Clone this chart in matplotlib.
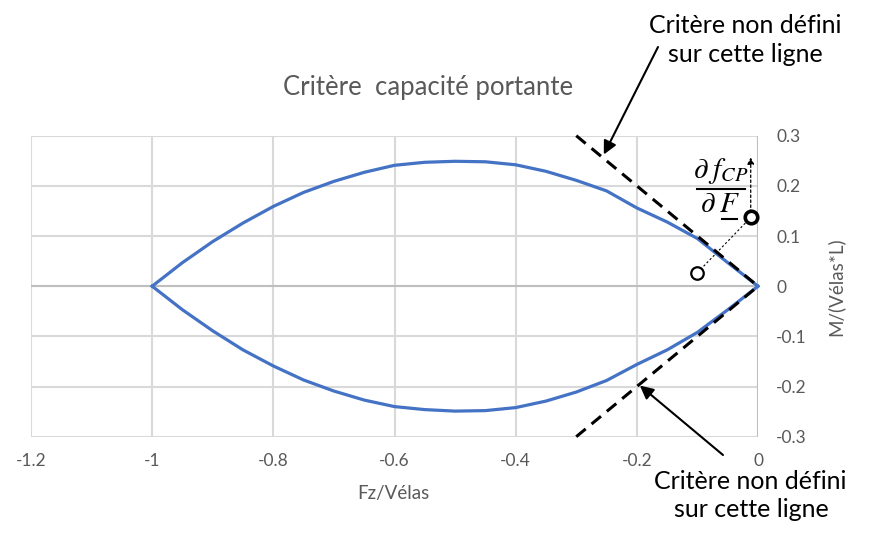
import matplotlib
matplotlib.use("Agg")
import matplotlib.pyplot as plt
from matplotlib.lines import Line2D

plt.rcParams['font.family'] = ['Lato', 'DejaVu Sans']
plt.rcParams['mathtext.fontset'] = 'stix'

# ---- data ----
fz = [-1.0, -0.95, -0.9, -0.85, -0.8, -0.75, -0.7, -0.65, -0.6, -0.55, -0.5,
      -0.45, -0.4, -0.35, -0.3, -0.25, -0.2, -0.15, -0.1, -0.05, 0.0]
m_upper = [0.0, 0.047, 0.089, 0.126, 0.159, 0.187, 0.209, 0.227, 0.241, 0.247, 0.249,
           0.248, 0.242, 0.229, 0.211, 0.190, 0.156, 0.128, 0.095, 0.047, 0.0]
m_lower = [0.0, -0.047, -0.089, -0.127, -0.159, -0.187, -0.209, -0.227, -0.240, -0.246, -0.249,
           -0.248, -0.242, -0.229, -0.211, -0.188, -0.156, -0.127, -0.092, -0.047, 0.0]
crit_x = [-0.3, 0.0]
crit_up = [0.3, 0.0]
crit_down = [-0.3, 0.0]
grad_base = (-0.100, 0.027)
grad_point = (-0.012, 0.137)
grad_tip_y = 0.257
arrow_up_tip = (-0.2545, 0.2625)
arrow_down_tip = (-0.195, -0.198)

xticks = [-1.2, -1.0, -0.8, -0.6, -0.4, -0.2, 0.0]
xticklabels = ['-1.2', '-1', '-0.8', '-0.6', '-0.4', '-0.2', '0']
yticks = [-0.3, -0.2, -0.1, 0.0, 0.1, 0.2, 0.3]
yticklabels = ['-0.3', '-0.2', '-0.1', '0', '0.1', '0.2', '0.3']

title = 'Critère  capacité portante'
xlabel = 'Fz/Vélas'
ylabel = 'M/(Vélas*L)'
note = ['Critère non défini', 'sur cette ligne']

W, H = 871, 538
def fx(px):
    return px / W
def fy(py):
    return 1 - py / H

fig = plt.figure(figsize=(W / 100, H / 100), dpi=100)
ax = fig.add_axes([fx(31), fy(436.7), (758 - 31) / W, (436.7 - 135.7) / H])
ax.set_xlim(-1.2, 0)
ax.set_ylim(-0.3, 0.3)
for s in ax.spines.values():
    s.set_visible(False)
ax.set_xticks(xticks)
ax.set_xticklabels(xticklabels)
ax.set_yticks(yticks)
ax.set_yticklabels(yticklabels)
ax.yaxis.tick_right()
ax.tick_params(axis='both', length=0, labelcolor='#595959', labelsize=12.5)
ax.tick_params(axis='x', pad=12)
ax.tick_params(axis='y', pad=13)
for lab in ax.get_yticklabels():
    lab.set_horizontalalignment('left')
ax.grid(True, color='#d9d9d9', lw=1.5, zorder=0)
ax.set_axisbelow(True)
ax.axhline(0, color='#bfbfbf', lw=1.5, zorder=1)
ax.axvline(0, color='#bfbfbf', lw=1.5, zorder=1)

ax.plot(fz, m_upper, color='#4472C4', lw=2.3, zorder=3, clip_on=False)
ax.plot(fz, m_lower, color='#4472C4', lw=2.3, zorder=3, clip_on=False)
ax.plot(crit_x, crit_up, color='black', lw=2.2, ls=(0, (4, 2.5)), zorder=4, clip_on=False)
ax.plot(crit_x, crit_down, color='black', lw=2.2, ls=(0, (4, 2.5)), zorder=4, clip_on=False)

# gradient
ax.plot([grad_base[0], grad_point[0]], [grad_base[1], grad_point[1]], color='black',
        lw=0.8, ls=(0, (2, 2)), zorder=5)
ax.plot([grad_base[0]], [grad_base[1]], marker='o', ms=9, mfc='white', mec='black', mew=1.6, zorder=6)
ax.annotate('', xy=(grad_point[0], grad_tip_y), xytext=grad_point,
            arrowprops=dict(arrowstyle='-|>', lw=0.9, ls=(0, (2, 2)), color='black',
                            mutation_scale=10, shrinkA=0, shrinkB=0), zorder=5)
ax.plot([grad_point[0]], [grad_point[1]], marker='o', ms=9, mfc='white', mec='black', mew=2.6,
        zorder=6, clip_on=False)

fig.text(fx(721), fy(178), r'$\partial\;f_{CP}$', fontsize=21, ha='center', va='baseline')
fig.add_artist(Line2D([fx(697), fx(745)], [fy(189), fy(189)], color='black', lw=1.5))
fig.text(fx(720), fy(212), r'$\partial\;F$', fontsize=21, ha='center', va='baseline')
fig.add_artist(Line2D([fx(722), fx(737)], [fy(218.5), fy(218.5)], color='black', lw=1.5))

# arrows and notes
ax.annotate('', xy=arrow_up_tip, xytext=(fx(658), fy(47)), textcoords='figure fraction',
            arrowprops=dict(arrowstyle='-|>', lw=1.5, color='black', mutation_scale=20,
                            shrinkA=0, shrinkB=0), annotation_clip=False)
ax.annotate('', xy=arrow_down_tip, xytext=(fx(723), fy(455)), textcoords='figure fraction',
            arrowprops=dict(arrowstyle='-|>', lw=1.5, color='black', mutation_scale=20,
                            shrinkA=0, shrinkB=0), annotation_clip=False)

fig.text(fx(745.5), fy(33), note[0], fontsize=18, ha='center', va='baseline', color='black')
fig.text(fx(745.5), fy(62), note[1], fontsize=18, ha='center', va='baseline', color='black')
fig.text(fx(750.5), fy(489), note[0], fontsize=18, ha='center', va='baseline', color='black')
fig.text(fx(751), fy(517), note[1], fontsize=18, ha='center', va='baseline', color='black')

fig.text(fx(428), fy(88), title, fontsize=18.5, ha='center', va='center', color='#595959')

ax.set_xlabel(xlabel, fontsize=13.5, color='#595959')
ax.xaxis.set_label_coords((393 - 31) / 727, (436.7 - 493) / 301)
ax.xaxis.label.set_va('center')
ax.set_ylabel(ylabel, fontsize=13.5, color='#595959')
ax.yaxis.set_label_position('right')
ax.yaxis.set_label_coords((835 - 31) / 727, 0.5)
ax.yaxis.label.set_va('center')

fig.savefig('out.png', dpi=100, facecolor='white')
